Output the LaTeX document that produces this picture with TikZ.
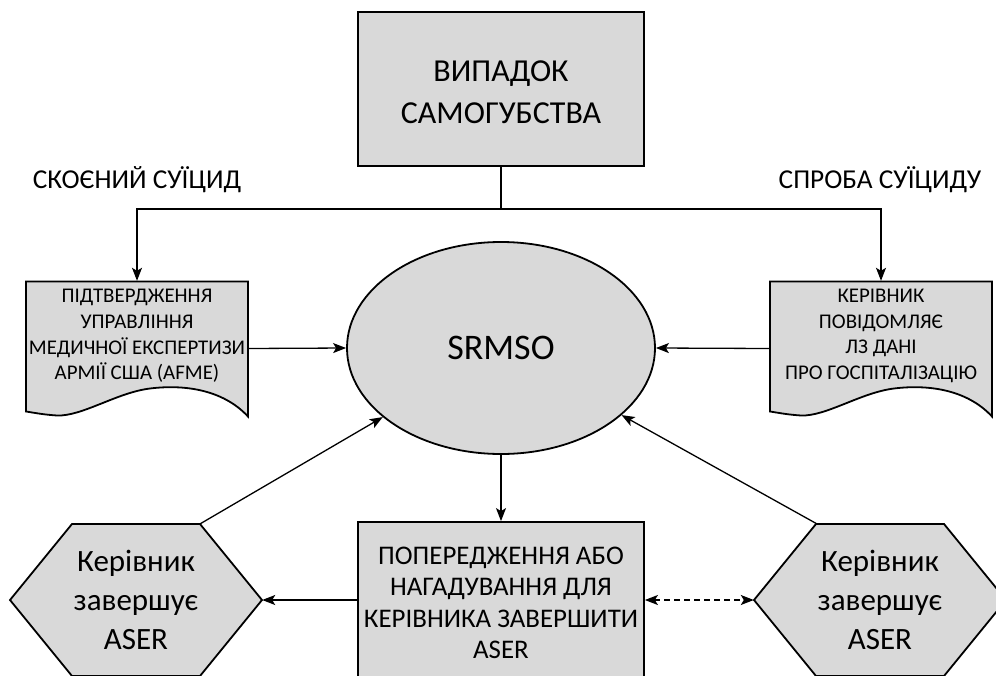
\documentclass[tikz,border=0pt]{standalone}
\usepackage{fontspec}
\setmainfont{Carlito}
\usetikzlibrary{arrows.meta,calc,shapes.geometric}
\definecolor{boxgray}{HTML}{D9D9D9}
\tikzset{
  shapeline/.style={draw=black, line width=1.8pt, fill=boxgray, line join=miter},
  box/.style={shapeline, inner sep=0pt, align=center},
  holder/.style={inner sep=0pt, align=center},
  conn/.style={line width=1.3pt},
  tip/.style={-{Stealth[length=13pt,width=10pt,inset=3pt]}},
  arr/.style={conn, tip},
  topfont/.style={font=\fontsize{32}{42}\selectfont},
  docfont/.style={font=\fontsize{20.9}{25.7}\selectfont},
  lblfont/.style={font=\fontsize{27.3}{30}\selectfont},
  hexfont/.style={font=\fontsize{31}{39}\selectfont},
  warnfont/.style={font=\fontsize{26.9}{31.5}\selectfont},
  pics/docshape/.style={code={
    \path[shapeline] (-111,-67) -- (111,-67) -- (111,68)
      .. controls (85,40) and (45,36) .. (13,40)
      .. controls (-20,44) and (-55,68) .. (-80,67)
      .. controls (-95,66) and (-104,64) .. (-111,63) -- cycle;
  }},
  pics/hexshape/.style={code={
    \path[shapeline] (-126,0) -- (-64,-76) -- (64,-76) -- (126,0) -- (64,76) -- (-64,76) -- cycle;
  }},
}
\begin{document}
\begin{tikzpicture}[x=1pt,y=-1pt]
\useasboundingbox (0,0) rectangle (996,675);
\clip (0,0) rectangle (996,675);

% top box
\node[box, minimum width=286pt, minimum height=154pt] (case) at (501,89) {};
\node[holder, topfont] (casetext) at (501,92) {ВИПАДОК\\САМОГУБСТВА};

% labels
\node[holder, lblfont, anchor=base] (done) at (137,188) {СКОЄНИЙ СУЇЦИД};
\node[holder, lblfont, anchor=base] (attempt) at (880,188) {СПРОБА СУЇЦИДУ};

% documents
\pic at (137,348.5) {docshape};
\pic at (881,348.5) {docshape};
\node[holder, minimum width=222pt, minimum height=135pt] (ldoc) at (137,348.5) {};
\node[holder, minimum width=222pt, minimum height=135pt] (rdoc) at (881,348.5) {};
\node[holder, docfont] (ldoctext) at (137,336) {ПІДТВЕРДЖЕННЯ\\УПРАВЛІННЯ\\МЕДИЧНОЇ ЕКСПЕРТИЗИ\\АРМІЇ США (AFME)};
\node[holder, docfont] (rdoctext) at (881,336) {КЕРІВНИК\\ПОВІДОМЛЯЄ\\ЛЗ ДАНІ\\ПРО ГОСПІТАЛІЗАЦІЮ};

% ellipse
\node[ellipse, shapeline, inner sep=0pt, minimum width=308pt, minimum height=212pt, font=\fontsize{36}{40}\selectfont] (srmso) at (501,348) {SRMSO};

% bottom box
\node[box, minimum width=286pt, minimum height=156pt] (warn) at (501,600) {};
\node[holder, warnfont] (warntext) at (501,603) {ПОПЕРЕДЖЕННЯ АБО\\НАГАДУВАННЯ ДЛЯ\\КЕРІВНИКА ЗАВЕРШИТИ\\ASER};

% hexagons
\pic at (136,600) {hexshape};
\pic at (880,600) {hexshape};
\node[holder, hexfont, minimum width=252pt, minimum height=152pt] (lhex) at (136,600) {Керівник\\завершує\\ASER};
\node[holder, hexfont, minimum width=252pt, minimum height=152pt] (rhex) at (880,600) {Керівник\\завершує\\ASER};

% connectors
\coordinate (junction) at (501,209);
\draw[conn] (case.south) -- (junction);
\draw[arr] (junction) -| (ldoc.north);
\draw[arr] (junction) -| (rdoc.north);
\draw[arr] (ldoc.east) -- (srmso.west);
\draw[arr] (rdoc.west) -- (srmso.east);
\draw[arr] (srmso.south) -- (warn.north);
\draw[arr] (warn.west) -- (lhex.east);
\draw[conn, dashed, dash pattern=on 6pt off 4pt, {Stealth[length=13pt,width=10pt,inset=3pt]}-{Stealth[length=13pt,width=10pt,inset=3pt]}] (warn.east) -- (rhex.west);
\draw[arr] ([xshift=-62pt]lhex.north east) -- (srmso);
\draw[arr] ([xshift=63pt]rhex.north west) -- (srmso);
\end{tikzpicture}
\end{document}
